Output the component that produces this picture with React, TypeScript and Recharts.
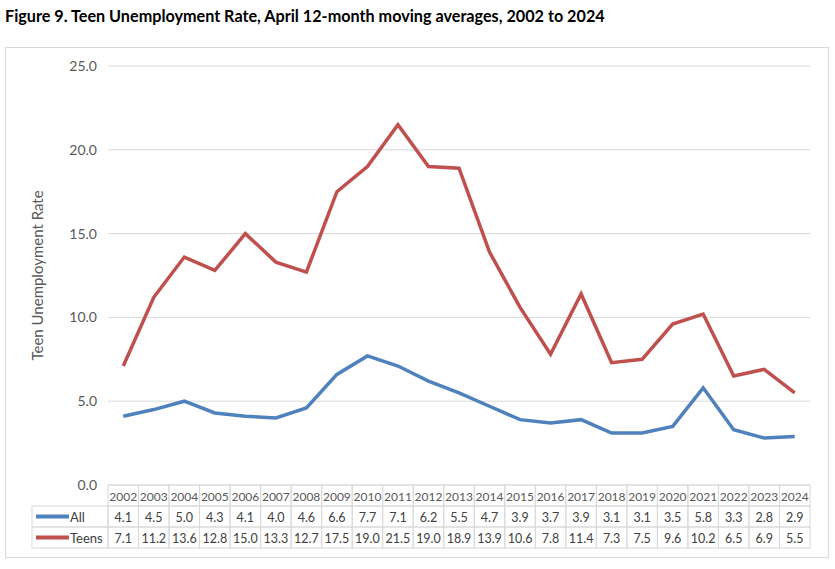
import React from 'react';
import { LineChart, Line, XAxis, YAxis, CartesianGrid } from 'recharts';

const years = [
  '2002', '2003', '2004', '2005', '2006', '2007', '2008', '2009', '2010', '2011', '2012', '2013',
  '2014', '2015', '2016', '2017', '2018', '2019', '2020', '2021', '2022', '2023', '2024',
];
const allRate = [4.1, 4.5, 5.0, 4.3, 4.1, 4.0, 4.6, 6.6, 7.7, 7.1, 6.2, 5.5, 4.7, 3.9, 3.7, 3.9, 3.1, 3.1, 3.5, 5.8, 3.3, 2.8, 2.9];
const teenRate = [7.1, 11.2, 13.6, 12.8, 15.0, 13.3, 12.7, 17.5, 19.0, 21.5, 19.0, 18.9, 13.9, 10.6, 7.8, 11.4, 7.3, 7.5, 9.6, 10.2, 6.5, 6.9, 5.5];
const yTicks = [0, 5, 10, 15, 20, 25];

const BLUE = '#4F81BD';
const RED = '#C0504D';
const FONT = 'Lato, "Open Sans", sans-serif';

const W = 835;
const H = 569;
const margin = { top: 66, right: 25, bottom: 21, left: 20 };
const yAxisWidth = 88;
const plotW = W - margin.left - margin.right - yAxisWidth;
const cellW = plotW / years.length;
const rowH = 21;
const legendW = 76;

const data = years.map((y, i) => ({ year: y, all: allRate[i], teens: teenRate[i] }));

const series = [
  { key: 'all', name: 'All', color: BLUE, values: allRate },
  { key: 'teens', name: 'Teens', color: RED, values: teenRate },
];

// x axis tick draws one column of the data table
const TableTick = (props: any) => {
  const { x, y, payload } = props;
  const i = payload.index;
  const left = x - cellW / 2;
  const cellStroke = '#D9D9D9';
  return (
    <g fontFamily={FONT} fontSize={12.5} fill="#404040">
      <rect x={left} y={y} width={cellW} height={rowH} fill="none" stroke={cellStroke} />
      <text x={x} y={y + rowH / 2 + 5} textAnchor="middle" fill="#595959" fontSize={12}>{payload.value}</text>
      {series.map((s, r) => (
        <g key={s.key}>
          <rect x={left} y={y + rowH * (r + 1)} width={cellW} height={rowH} fill="none" stroke={cellStroke} />
          <text x={x} y={y + rowH * (r + 1) + rowH / 2 + 5} textAnchor="middle">
            {s.values[i].toFixed(1)}
          </text>
        </g>
      ))}
      {i === 0 &&
        series.map((s, r) => (
          <g key={'lg-' + s.key}>
            <rect x={left - legendW} y={y + rowH * (r + 1)} width={legendW} height={rowH} fill="none" stroke={cellStroke} />
            <line
              x1={left - legendW + 4}
              x2={left - legendW + 37}
              y1={y + rowH * (r + 1) + rowH / 2}
              y2={y + rowH * (r + 1) + rowH / 2}
              stroke={s.color}
              strokeWidth={4}
            />
            <text x={left - legendW + 38} y={y + rowH * (r + 1) + rowH / 2 + 5} textAnchor="start" fontSize={13}>
              {s.name}
            </text>
          </g>
        ))}
    </g>
  );
};

const YLabel = (props: any) => {
  const { viewBox } = props;
  const cx = viewBox.x + 17;
  const cy = viewBox.y + viewBox.height / 2;
  return (
    <text
      x={cx}
      y={cy}
      transform={`rotate(-90, ${cx}, ${cy})`}
      textAnchor="middle"
      dominantBaseline="central"
      fontFamily={FONT}
      fontSize={15}
      fill="#595959"
    >
      Teen Unemployment Rate
    </text>
  );
};

export default function App() {
  return (
    <div style={{ position: 'absolute', left: 0, top: 0, width: W, height: H, background: '#fff' }}>
      <div
        style={{
          position: 'absolute',
          left: 5,
          top: 6,
          fontFamily: FONT,
          fontWeight: 'bold',
          fontSize: 16.2,
          color: '#000',
        }}
      >
        Figure 9. Teen Unemployment Rate, April 12-month moving averages, 2002 to 2024
      </div>
      <div
        style={{
          position: 'absolute',
          left: 5,
          top: 47,
          width: 822,
          height: 509,
          border: '1px solid #D9D9D9',
        }}
      />
      <div style={{ position: 'absolute', left: 0, top: 0 }}>
        <LineChart width={W} height={H} data={data} margin={margin}>
          <CartesianGrid vertical={false} stroke="#D9D9D9" />
          <XAxis
            dataKey="year"
            axisLine={false}
            tickLine={false}
            tickSize={0}
            tickMargin={0}
            height={63}
            interval={0}
            padding={{ left: cellW / 2, right: cellW / 2 }}
            tick={<TableTick />}
          />
          <YAxis
            width={yAxisWidth}
            domain={[0, 25]}
            ticks={yTicks}
            axisLine={false}
            tickLine={false}
            tickMargin={5}
            tickFormatter={(v: number) => v.toFixed(1)}
            tick={{ fill: '#595959', fontSize: 14, fontFamily: FONT }}
            label={<YLabel />}
          />
          {series.map((s) => (
            <Line
              key={s.key}
              dataKey={s.key}
              name={s.name}
              stroke={s.color}
              strokeWidth={3.5}
              dot={false}
              type="linear"
              isAnimationActive={false}
            />
          ))}
        </LineChart>
      </div>
    </div>
  );
}
